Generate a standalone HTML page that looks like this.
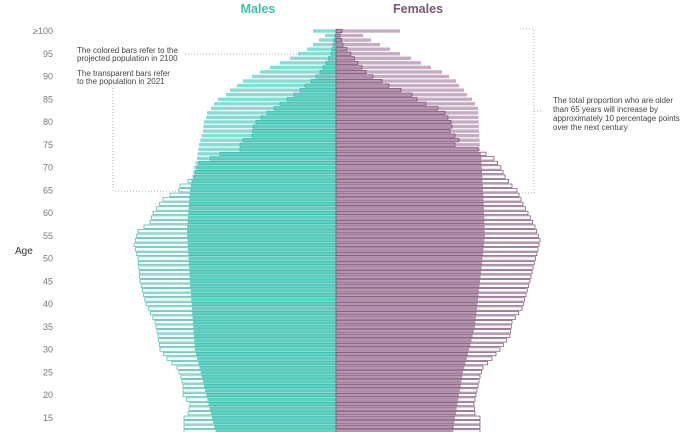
<!DOCTYPE html>
<html><head><meta charset="utf-8"><style>
html,body{margin:0;padding:0;background:#fff;}
svg{display:block;font-family:"Liberation Sans",sans-serif;}
</style></head><body>
<svg id="s" width="700" height="432" viewBox="0 0 700 432" xmlns="http://www.w3.org/2000/svg">
<g id="bars"></g>
<text x="258" y="13" text-anchor="middle" font-size="12.5" font-weight="bold" fill="#3dbfae">Males</text>
<text x="418" y="13" text-anchor="middle" font-size="12.5" font-weight="bold" fill="#7a5575">Females</text>
<text x="15" y="254" font-size="10" fill="#333">Age</text>
<g id="ticks" font-size="9" fill="#777" text-anchor="end"></g>
<g font-size="8" fill="#444">
<text x="77" y="53">The colored bars refer to the</text>
<text x="77" y="61">projected population in 2100</text>
<text x="77" y="76">The transparent bars refer</text>
<text x="77" y="84">to the population in 2021</text>
<text x="553" y="103">The total proportion who are older</text>
<text x="553" y="112">than 65 years will increase by</text>
<text x="553" y="121">approximately 10 percentage points</text>
<text x="553" y="130">over the next century</text>
</g>
<g stroke="#999" stroke-width="0.8" stroke-dasharray="1,2" fill="none">
<path d="M185 54 H300"/>
<path d="M113 88 V191 H182"/>
<path d="M520 29 H534 V193 H520"/>
<path d="M534 111 H541"/>
</g>
</svg>
<script>
function interp(pts,a){for(var i=0;i<pts.length-1;i++){var p=pts[i],q=pts[i+1];if(a<=p[0]&&a>=q[0]){var t=(p[0]-a)/(p[0]-q[0]);return p[1]+t*(q[1]-p[1]);}}return pts[pts.length-1][1];}
var C=336;
var m2100=[[100,313],[99,325],[98,319],[97,313],[96,307],[95,298],[94,290],[93,280],[92,270],[91,260],[90,252],[89,243],[88,237],[87,230],[86,226],[85,218],[84,214],[83,211],[82,207],[81,206],[80,204],[78,203],[75,199],[72,197],[70,194],[65,190],[56,187],[45,190],[30,195],[15,212],[10,218]];
var m2021=[[100,336],[97,333],[95,331],[93,326],[92,323],[91,320],[90,316],[89,311],[88,305],[87,300],[86,294],[85,287],[84,280],[83,274],[82,267],[81,261],[80,256],[79,253],[77,252],[76,243],[75,240],[74,240],[73,220],[72,210],[71,199],[70,197],[68,194],[67,188],[66,180],[65,179],[64,170],[63,163],[60,153],[58,150],[56,138],[53,134],[50,138],[45,140],[40,146],[36,155],[33,158],[30,160],[28,167],[26,177],[24,181],[22,183],[20,183],[18,190],[16,188],[15,184],[10,184]];
var f2100=[[100,400],[99,363],[98,371],[97,380],[96,390],[95,400],[94,411],[93,421],[92,431],[91,442],[90,449],[89,456],[88,459],[87,464],[86,467],[85,472],[84,475],[83,478],[74,480],[73,481],[65,483],[55,485],[45,480],[35,475],[25,463],[15,455],[10,452]];
var f2021=[[100,342],[99,340],[97,343],[95,351],[93,358],[91,366],[90,373],[89,382],[88,389],[87,401],[86,412],[85,417],[84,426],[83,438],[82,445],[81,448],[80,451],[79,452],[78,450],[77,455],[76,459],[75,455],[74,478],[73,486],[72,494],[70,501],[68,505],[66,512],[65,517],[62,523],[60,528],[57,535],[54,540],[51,537],[48,533],[45,530],[42,526],[39,522],[36,512],[33,510],[30,500],[28,492],[26,483],[24,480],[22,478],[20,476],[18,474],[16,475],[15,480],[10,480]];
var g=document.getElementById('bars'),h='';
function r(x1,x2,y,fill,stroke,sw){var x=Math.min(x1,x2),w=Math.abs(x2-x1);if(w<0.3)return '';return '<rect x="'+x.toFixed(1)+'" y="'+y.toFixed(2)+'" width="'+w.toFixed(1)+'" height="3.4" fill="'+fill+'"'+(stroke?' stroke="'+stroke+'" stroke-width="'+sw+'"':'')+'/>';}
for(var a=100;a>=11;a--){
 var y=31+(100-a)*4.55-1.7;
 var mp=interp(m2100,a),mo=interp(m2021,a),fp=interp(f2100,a),fo=interp(f2021,a);
 h+=r(mp,C,y,'#86ddd3');
 h+=r(Math.max(mp,mo),C,y,'#5ed3c5');
 h+=r(mo,C,y,'none','#36b6a6',0.7);
 h+=r(C,fp,y,'#c7adc3');
 h+=r(C,Math.min(fp,fo),y,'#b595af');
 h+=r(C,fo,y,'none','#75466e',0.7);
}
g.innerHTML=h;
var t=document.getElementById('ticks'),th='';
for(var a=100;a>=15;a-=5){var y=31+(100-a)*4.55+3;th+='<text x="53" y="'+y+'">'+(a==100?'≥100':a)+'</text>';}
t.innerHTML=th;
</script>
</body></html>
